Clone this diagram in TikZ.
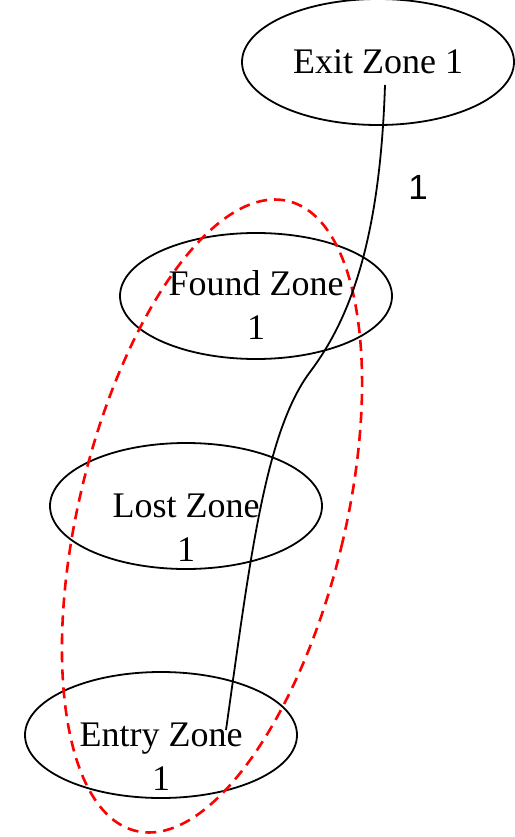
\documentclass[tikz,border=0pt]{standalone}
\usepackage{fontspec}
\setmainfont{Liberation Serif}
\newfontfamily\labelfont{Liberation Sans}
\usetikzlibrary{shapes.geometric, positioning}

\begin{document}
\begin{tikzpicture}[
    x=1pt, y=-1pt,
    % --- STYLES ---
    zone/.style={
        ellipse, draw=black, line width=1.8pt,
        minimum width=272pt, minimum height=126pt,
        inner sep=0pt, align=center,
        font=\fontsize{36}{44}\selectfont
    },
    zonetext/.style={align=center, inner sep=0pt, font=\fontsize{36}{44}\selectfont},
    cluster/.style={draw=red, line width=2.6pt, dash pattern=on 11pt off 7pt},
    link/.style={draw=black, line width=1.8pt},
    count/.style={font=\labelfont\fontsize{35}{40}\selectfont}
]
\useasboundingbox (0,0) rectangle (514,837);

% ===== 1. ZONE NODES =====
\node[zone] (exit) at (378,62) {Exit Zone 1};
\node[zone, label={[zonetext, yshift=-9pt]center:Found Zone\\ 1}] (found) at (256,296) {};
\node[zone, label={[zonetext, yshift=-22pt]center:Lost Zone\\ 1}] (lost) at (186,506) {};
\node[zone, label={[zonetext, yshift=-22pt]center:Entry Zone\\ 1}] (entry) at (161,735) {};

% ===== 2. CLUSTER =====
\draw[cluster, rotate around={-13.6:(212,516)}] (212,516) ellipse [x radius=133pt, y radius=324pt];

% ===== 3. CONNECTION =====
\coordinate (tail) at (226,730);
\coordinate (bend) at (310,372);
\coordinate (head) at (385,85);
\draw[link] (tail) .. controls (250,560) and (265,432) .. (bend)
    .. controls (350,319) and (380,240) .. (head);
\node[count] (flow) at (418,187) {1};

\end{tikzpicture}
\end{document}
